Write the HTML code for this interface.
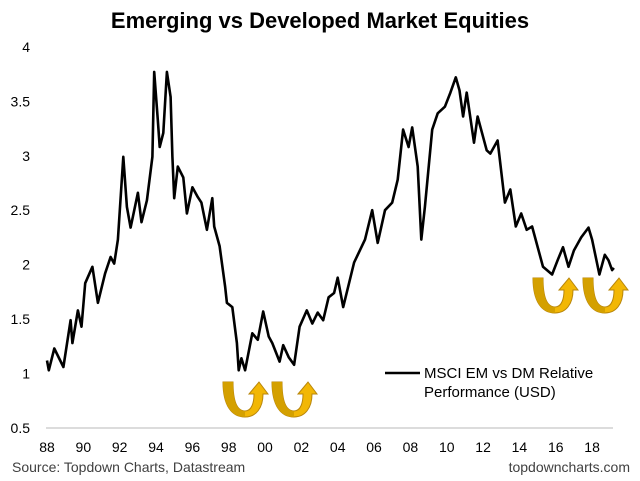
<!DOCTYPE html>
<html><head><meta charset="utf-8"><style>
body{margin:0;background:#fff;font-family:"Liberation Sans",Arial,sans-serif}
svg{display:block}
</style></head><body>
<svg width="640" height="481" viewBox="0 0 640 481">
<text x="320" y="28" text-anchor="middle" font-size="22" font-weight="bold" fill="#000">Emerging vs Developed Market Equities</text>
<g id="yticks"></g>
<g id="xticks"></g>
<line x1="46" y1="428" x2="613" y2="428" stroke="#d0d0d0" stroke-width="1.5"/>
<path id="series" fill="none" stroke="#000" stroke-width="2.6" stroke-linejoin="round"/>
<g id="arrows"></g>
<line x1="385" y1="373" x2="420" y2="373" stroke="#000" stroke-width="2.6"/>
<text x="424" y="378" font-size="15" fill="#000">MSCI EM vs DM Relative</text>
<text x="424" y="397" font-size="15" fill="#000">Performance (USD)</text>
<text x="12" y="472" font-size="14" fill="#404040">Source: Topdown Charts, Datastream</text>
<text x="630" y="472" font-size="14" fill="#404040" text-anchor="end">topdowncharts.com</text>
</svg>
<script>
const yTicks=[0.5,1,1.5,2,2.5,3,3.5,4];
const xTickLabels=["88","90","92","94","96","98","00","02","04","06","08","10","12","14","16","18"];
const xTickYears=[1988,1990,1992,1994,1996,1998,2000,2002,2004,2006,2008,2010,2012,2014,2016,2018];
const years=[1988.0,1988.1,1988.4,1988.9,1989.3,1989.4,1989.7,1989.9,1990.1,1990.5,1990.8,1991.2,1991.5,1991.7,1991.9,1992.2,1992.4,1992.6,1993.0,1993.2,1993.5,1993.8,1993.9,1994.1,1994.2,1994.4,1994.6,1994.8,1994.9,1995.0,1995.2,1995.5,1995.7,1996.0,1996.3,1996.5,1996.8,1997.1,1997.2,1997.5,1997.8,1997.9,1998.2,1998.45,1998.55,1998.7,1998.9,1999.3,1999.6,1999.9,2000.2,2000.4,2000.8,2001.0,2001.3,2001.6,2001.9,2002.3,2002.6,2002.9,2003.2,2003.5,2003.8,2004.0,2004.3,2004.9,2005.5,2005.9,2006.2,2006.6,2007.0,2007.3,2007.6,2007.9,2008.1,2008.4,2008.6,2008.8,2009.2,2009.5,2009.9,2010.2,2010.5,2010.7,2010.9,2011.1,2011.5,2011.7,2012.2,2012.4,2012.8,2013.2,2013.5,2013.8,2014.1,2014.4,2014.7,2015.3,2015.8,2016.1,2016.4,2016.7,2017.0,2017.4,2017.8,2018.0,2018.4,2018.7,2018.9,2019.1,2019.2];
const values=[1.12,1.03,1.23,1.06,1.49,1.28,1.58,1.43,1.83,1.98,1.65,1.92,2.07,2.01,2.23,2.99,2.53,2.34,2.66,2.39,2.59,2.99,3.77,3.33,3.08,3.21,3.77,3.54,2.99,2.61,2.90,2.80,2.47,2.71,2.62,2.57,2.32,2.61,2.35,2.17,1.80,1.65,1.61,1.28,1.03,1.14,1.03,1.37,1.31,1.57,1.34,1.28,1.11,1.26,1.15,1.08,1.43,1.58,1.46,1.56,1.49,1.70,1.74,1.88,1.61,2.02,2.23,2.50,2.20,2.50,2.57,2.78,3.24,3.08,3.26,2.90,2.23,2.53,3.24,3.39,3.45,3.58,3.72,3.60,3.36,3.58,3.12,3.36,3.05,3.02,3.14,2.57,2.69,2.35,2.47,2.32,2.35,1.98,1.91,2.04,2.16,1.98,2.13,2.25,2.34,2.23,1.91,2.09,2.04,1.95,1.97];
const arrowXs=[223,272,533,583];
const arrowYs=[382,382,278,278];
const NS="http://www.w3.org/2000/svg";
function xs(yr){return 47+(yr-1988)*18.17;}
function ys(v){return 428-(v-0.5)*108.9;}
const yg=document.getElementById('yticks');
yTicks.forEach(v=>{const t=document.createElementNS(NS,'text');


t.setAttribute('x',30);t.setAttribute('y',ys(v)+5);t.setAttribute('text-anchor','end');t.setAttribute('font-size','14');t.textContent=String(v);yg.appendChild(t);});
const xg=document.getElementById('xticks');
xTickLabels.forEach((l,i)=>{const t=document.createElementNS(NS,'text');


t.setAttribute('x',xs(xTickYears[i]));t.setAttribute('y',452);t.setAttribute('text-anchor','middle');t.setAttribute('font-size','14');t.textContent=l;xg.appendChild(t);});
document.getElementById('series').setAttribute('d',years.map((y,i)=>(i?'L':'M')+xs(y).toFixed(1)+' '+ys(values[i]).toFixed(1)).join(' '));
const ag=document.getElementById('arrows');
arrowXs.forEach((x0,i)=>{const y0=arrowYs[i];const g=document.createElementNS(NS,'g');


g.setAttribute('transform','translate('+x0+','+y0+')');
g.innerHTML='<path d="M0 0 L10 0 C10 20 14 29 22 29 C29 29 31 20 31 12 L26 12 L36 0 L45 12 L40 12 C40 26 33 35 22 35 C9 35 0 24 0 0 Z" fill="#f2b705" stroke="#b8860b" stroke-width="1"/><path d="M0 0 L10 0 C10 20 14 29 22 29 L22 35 C9 35 0 24 0 0 Z" fill="#d4a000"/>';
ag.appendChild(g);});
</script>
</body></html>
